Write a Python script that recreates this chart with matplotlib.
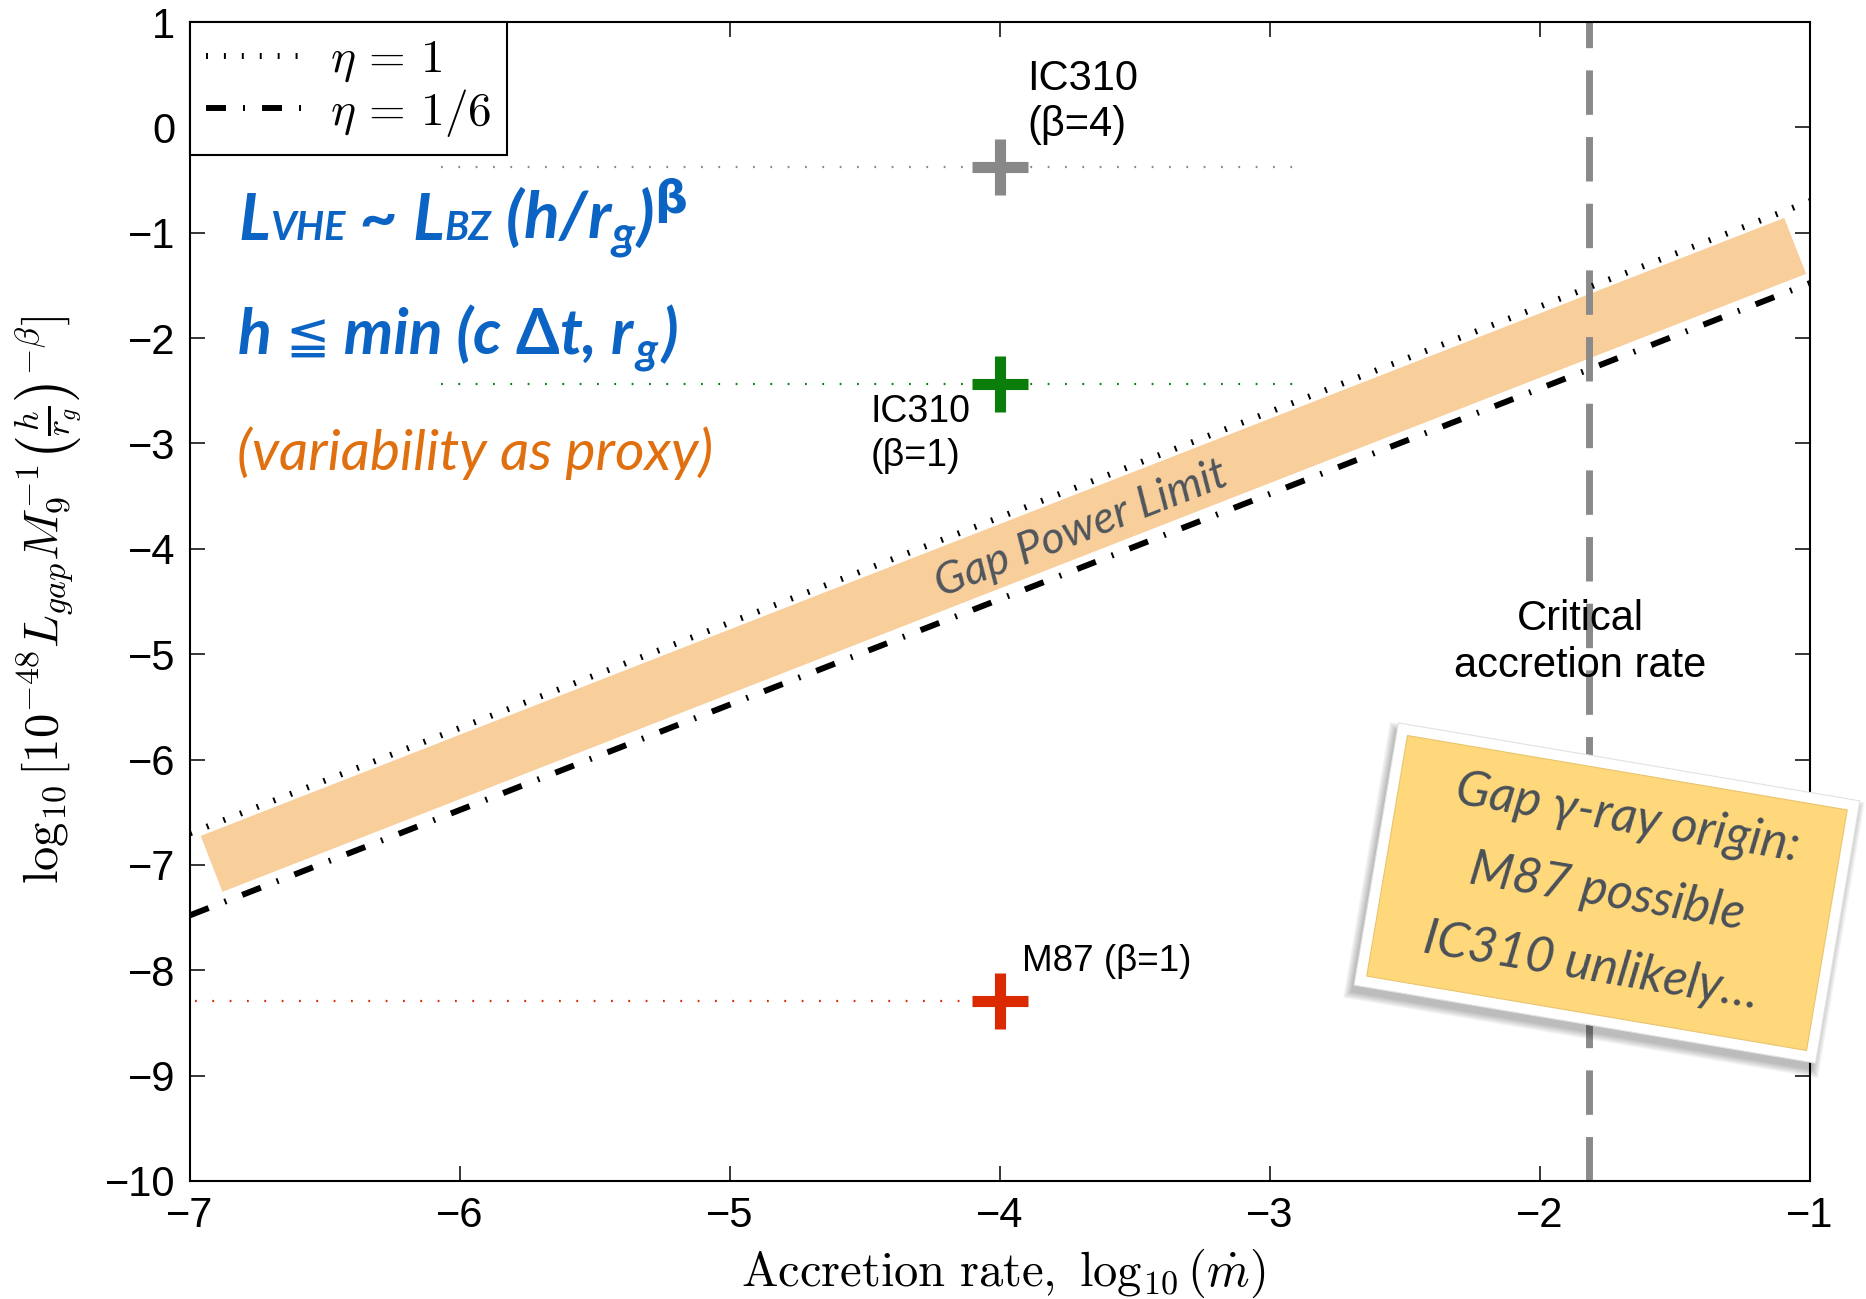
import numpy as np
import matplotlib
matplotlib.use("Agg")
import matplotlib.pyplot as plt
import matplotlib.transforms as mtransforms
from matplotlib.patches import Rectangle
from matplotlib.offsetbox import TextArea, HPacker, AnnotationBbox

plt.rcParams["font.family"] = ["Liberation Sans", "DejaVu Sans"]
plt.rcParams["mathtext.fontset"] = "cm"

W, H, DPI = 1866, 1299, 100

# ---- data -------------------------------------------------------------
mdot_range = [-7.0, -1.0]                 # log10 accretion rate
eta_values = [1.0, 1.0 / 6.0]
eta_labels = [r"$\eta\,=\,1$", r"$\eta\,=\,1/6\;\,$"]
limit_norm = 0.3                          # log10 L_gap at mdot=1 for eta=1

band_mdot = [-6.92, -1.055]               # gap power limit band (centre line)
band_norm = -0.07

src_labels = ["IC310\n(β=4)", "IC310\n(β=1)", "M87 (β=1)"]
src_mdot = [-4.0, -4.0, -4.0]
src_lgap = [-0.38, -2.44, -8.29]
src_colors = ["#888888", "#0B7D0B", "#DC2A00"]
src_spans = [(-6.07, -2.9), (-6.07, -2.9), (-6.98, -4.0)]

critical_mdot = -1.82

xticks = [-7, -6, -5, -4, -3, -2, -1]
yticks = list(range(-10, 2))

# ---- figure -----------------------------------------------------------
fig = plt.figure(figsize=(W / DPI, H / DPI), dpi=DPI)
ax = fig.add_axes([190 / W, 1 - 1181 / H, 1620 / W, 1159 / H])
ax.set_xlim(*mdot_range)
ax.set_ylim(-10, 1)

# gap power limit band
band_y = [m + band_norm for m in band_mdot]
ax.plot(band_mdot, band_y, color="#F8CE9B", lw=43.2,
        solid_capstyle="butt", zorder=1)

# upper limits for the two efficiencies
x_lim = np.array(mdot_range)
styles = [(0, (0.33, 2.67)), (0, (3.35, 2.85, 0.33, 2.85))]
handles = []
for eta, lab, ls in zip(eta_values, eta_labels, styles):
    y = x_lim + limit_norm + np.log10(eta)
    ln, = ax.plot(x_lim, y, color="black", lw=4.3, ls=ls,
                  dash_capstyle="butt", zorder=3, label=lab)
    handles.append(ln)

# critical accretion rate
ax.axvline(critical_mdot, color="#8A8A8A", lw=5, ls=(0, (6.4, 3.2)), zorder=2)

# sources
for xm, yl, c, span in zip(src_mdot, src_lgap, src_colors, src_spans):
    ax.plot(span, [yl, yl], color=c, lw=1.6, ls=(0, (0.8, 7.0)), zorder=2)
    ax.plot([xm], [yl], marker="+", ms=41, mew=8, color=c, ls="none", zorder=6)

ax.text(-3.9, 0.24, src_labels[0], fontsize=30, ha="left", va="center",
        linespacing=1.2, zorder=7)
ax.text(-4.478, -2.91, src_labels[1], fontsize=27, ha="left", va="center",
        linespacing=1.3, zorder=7)
ax.text(-3.92, -7.92, src_labels[2], fontsize=26.5, ha="left", va="center", zorder=7)

ax.text(critical_mdot - 0.03, -4.67, "Critical", fontsize=30, ha="center",
        va="center", zorder=7)
ax.text(critical_mdot - 0.03, -5.11, "accretion rate", fontsize=30, ha="center",
        va="center", zorder=7)

# label along the band
ang = np.degrees(np.arctan2(1159 / 11, 1620 / 6))
ax.text(-3.70, -3.82, "Gap Power Limit", fontsize=32.5, family=["Lato", "DejaVu Sans"],
        style="italic", color="#50565D", rotation=ang, rotation_mode="anchor",
        ha="center", va="center", zorder=4)

# axes styling
ax.set_xticks(xticks)
ax.set_yticks(yticks)
ax.tick_params(direction="in", top=True, right=True, length=10.8, width=1.1,
               labelsize=30, pad=10.5)
for sp in ax.spines.values():
    sp.set_linewidth(1.5)

leg = ax.legend(handles=handles, loc="upper left", borderaxespad=0,
                fancybox=False, edgecolor="black", framealpha=1,
                fontsize=34, handlelength=2.2, handletextpad=0.42,
                borderpad=0.34, labelspacing=0.05)
leg.get_frame().set_linewidth(1.5)

fig.text(1003 / W, 1 - 1273 / H,
         r"$\mathrm{Accretion\ rate,\ }\log_{10}(\dot{m})$",
         fontsize=35, ha="center", va="center")
fig.text(48 / W, 1 - 600 / H,
         r"$\log_{10}[10^{-48}L_{gap}M_9^{-1}\left(\frac{h}{r_g}\right)^{-\beta}]$",
         fontsize=35, rotation=90, ha="center", va="center")


# ---- formula text in the upper left --------------------------------------
def rich_line(pieces, x_px, y_px, color):
    boxes = []
    for txt, props in pieces:
        tp = dict(color=color, family=["Lato", "DejaVu Sans"], weight="bold",
                  style="italic")
        tp.update(props)
        boxes.append(TextArea(txt, textprops=tp))
    pack = HPacker(children=boxes, align="baseline", pad=0, sep=0)
    ab = AnnotationBbox(pack, (x_px, y_px), xycoords="figure pixels",
                        box_alignment=(0, 0), frameon=False, pad=0)
    fig.add_artist(ab)


blue = "#0B64C3"
big, small = 47.5, 28.5
rich_line([
    ("L", dict(fontsize=big)),
    ("VHE", dict(fontsize=small)),
    (" ~ ", dict(fontsize=big)),
    ("L", dict(fontsize=big)),
    ("BZ", dict(fontsize=small)),
    (" (h/r$_\\mathregular{g}$)$^{\\mathbf{\\beta}}$",
     dict(fontsize=big, family="Lato", math_fontfamily="dejavusans")),
], 238, H - 261, blue)

rich_line([
    ("h ", dict(fontsize=45)),
    ("≦", dict(fontsize=38, family="DejaVu Sans", weight="normal", style="normal")),
    (" min (c ", dict(fontsize=45)),
    ("Δ", dict(fontsize=45, style="normal")),
    ("t, r$_\\mathregular{g}$)", dict(fontsize=45, family="Lato")),
], 238, H - 374, blue)

fig.text(237 / W, 1 - 470 / H, "(variability as proxy)", fontsize=41,
         family=["Lato", "DejaVu Sans"], style="italic", color="#E0700F",
         ha="left", va="baseline")

# ---- rotated note -------------------------------------------------------
cx, cy = 1607, H - 893
rot = -9.6
nw, nh = 468, 266


def note_rect(w, h, dx=0, dy=0, **kw):
    tr = (mtransforms.Affine2D().translate(-w / 2, -h / 2).rotate_deg(rot)
          .translate(cx + dx, cy + dy))
    r = Rectangle((0, 0), w, h, transform=tr, **kw)
    fig.add_artist(r)
    return r


for i in range(8):
    note_rect(nw + 2 * i, nh + 2 * i, dx=-3, dy=-7, facecolor="black",
              edgecolor="none", alpha=0.035, zorder=20)
note_rect(nw, nh, facecolor="white", edgecolor="#E2E2E2", lw=0.8, zorder=21)
note_rect(nw - 22, nh - 22, facecolor="#FED87B", edgecolor="#E9C46E", lw=0.8,
          zorder=22)

note_lines = ["Gap γ-ray origin:", "M87 possible", "IC310 unlikely…"]
note_pos = [(1627, 819), (1607, 893), (1591, 967)]
for txt, (px, py) in zip(note_lines, note_pos):
    fig.text(px / W, 1 - py / H, txt, fontsize=36, family=["Lato", "DejaVu Sans"],
             style="italic", color="#4A5058", rotation=rot, rotation_mode="anchor",
             ha="center", va="center", zorder=23)

fig.savefig("out.png", dpi=DPI)
